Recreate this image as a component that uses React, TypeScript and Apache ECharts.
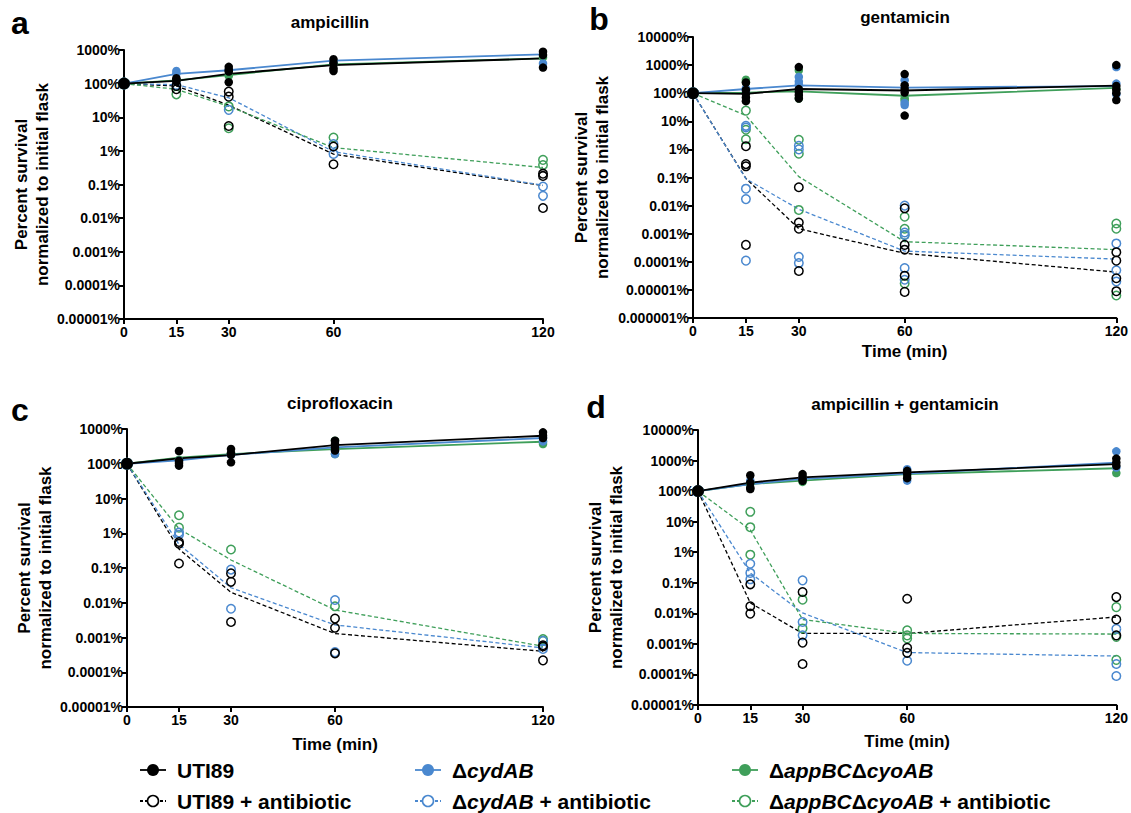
import React, { useEffect, useRef } from 'react';
import * as echarts from 'echarts';

// ---------- shared ----------
const TIMES = [0, 15, 30, 60, 120];
const X_TICKS = [0, 15, 30, 60, 120];
const GROUP_NAMES = ['UTI89', 'ΔcydAB', 'ΔappBCΔcyoAB', 'UTI89 + antibiotic', 'ΔcydAB + antibiotic', 'ΔappBCΔcyoAB + antibiotic'];

// ---------- a: ampicillin ----------
const ampMeanUTI = [100, 120, 195, 355, 560];
const ampMeanCyd = [100, 195, 250, 480, 740];
const ampMeanApp = [100, 125, 180, 375, 560];
const ampMeanUTIab = [100, 85, 23, 0.8, 0.093];
const ampMeanCydab = [100, 93, 38, 0.95, 0.095];
const ampMeanAppab = [100, 68, 21, 1.25, 0.32];
const ampPtsUTI = [[100], [144, 128, 115], [316, 255, 228, 110], [530, 400, 285, 238], [890, 710, 300]];
const ampPtsCyd = [[100], [237, 200], [255], [450], [1050, 400]];
const ampPtsApp = [[100], [128], [170], [400], [600]];
const ampPtsUTIab = [[100], [85, 68], [58, 41, 5.5], [1.35, 0.4], [0.21, 0.18, 0.02]];
const ampPtsCydab = [[100], [91], [16.6], [1.6, 0.81], [0.087, 0.046]];
const ampPtsAppab = [[100], [48], [21, 4.7], [2.5], [0.54, 0.38]];

// ---------- b: gentamicin ----------
const genMeanUTI = [100, 94, 141, 125, 185];
const genMeanCyd = [100, 141, 190, 158, 180];
const genMeanApp = [100, 105, 117, 81, 155];
const genMeanUTIab = [100, 0.093, 0.0015, 0.0002, 0.000043];
const genMeanCydab = [100, 0.09, 0.0074, 0.00024, 0.000125];
const genMeanAppab = [100, 16, 0.107, 0.00052, 0.00027];
const genPtsUTI = [[100], [240, 130, 95, 70, 52], [850, 140, 110, 85, 65], [480, 190, 140, 105, 16], [1000, 180, 135, 100, 57]];
const genPtsCyd = [[100], [150, 120], [380, 260, 200], [290, 45, 38], [850, 220, 90]];
const genPtsApp = [[100], [300, 250], [650, 65], [65, 55], [140]];
const genPtsUTIab = [[100], [1.3, 0.3, 0.25, 0.0004], [0.045, 0.0025, 0.0015, 0.000047], [0.008, 0.0004, 0.00027, 0.000032, 0.0000085], [0.00022, 0.00011, 0.000026, 0.000009]];
const genPtsCydab = [[100], [6.9, 6, 0.04, 0.017, 0.00011], [1.35, 1, 0.00015, 0.00009], [0.01, 0.0011, 0.0009, 0.00006, 0.000023], [0.00045, 0.00005, 0.00002]];
const genPtsAppab = [[100], [24, 5, 2.3], [2.2, 0.7, 0.007], [0.004, 0.0015, 0.0009, 0.000017], [0.0023, 0.0015, 0.0000063]];

// ---------- c: ciprofloxacin ----------
const cipMeanUTI = [100, 142, 178, 345, 640];
const cipMeanCyd = [100, 125, 180, 295, 550];
const cipMeanApp = [100, 150, 190, 265, 430];
const cipMeanUTIab = [100, 0.35, 0.02, 0.0013, 0.0004];
const cipMeanCydab = [100, 0.48, 0.027, 0.0023, 0.0005];
const cipMeanAppab = [100, 1.35, 0.17, 0.0062, 0.00056];
const cipPtsUTI = [[100], [232, 123, 105, 88], [265, 200, 180, 110], [460, 360, 290, 240], [800, 640, 550]];
const cipPtsCyd = [[100], [123], [180], [240, 190], [560, 440]];
const cipPtsApp = [[100], [130], [200], [460, 190], [430, 370]];
const cipPtsUTIab = [[100], [0.56, 0.5, 0.135], [0.07, 0.04, 0.0028], [0.0035, 0.0019, 0.00035], [0.0006, 0.00055, 0.00022]];
const cipPtsCydab = [[100], [0.9, 1.05], [0.09, 0.0067], [0.012, 0.00038], [0.0008, 0.00047]];
const cipPtsAppab = [[100], [3.3, 1.45], [0.34], [0.0079], [0.0009, 0.0008]];

// ---------- d: ampicillin + gentamicin ----------
const agMeanUTI = [100, 190, 280, 410, 760];
const agMeanCyd = [100, 170, 250, 375, 860];
const agMeanApp = [100, 170, 220, 360, 560];
const agMeanUTIab = [100, 0.022, 0.0022, 0.0022, 0.0076];
const agMeanCydab = [100, 0.21, 0.0103, 0.00052, 0.0004];
const agMeanAppab = [100, 5.4, 0.0063, 0.0022, 0.0021];
const agPtsUTI = [[100], [330, 190, 130, 117], [360, 295, 245, 218], [460, 360, 265], [1160, 860, 670]];
const agPtsCyd = [[100], [220], [270], [520, 220], [2000, 590]];
const agPtsApp = [[100], [180], [200], [310], [390]];
const agPtsUTIab = [[100], [0.089, 0.017, 0.0098], [0.05, 0.0011, 0.00022], [0.03, 0.00075, 0.00051], [0.034, 0.0063, 0.0019]];
const agPtsCydab = [[100], [0.42, 0.21, 0.13], [0.12, 0.0052, 0.0019], [0.00028], [0.0031, 0.00022, 0.000089]];
const agPtsAppab = [[100], [21, 6.6, 0.83], [0.028, 0.0032], [0.0028, 0.0019, 0.0015], [0.016, 0.0017, 0.0003]];

// ---------- styles ----------
const BLACK = '#000000';
const BLUE = '#4a88cf';
const GREEN = '#3f9f5a';
const FONT = '"Liberation Sans", Arial, Helvetica, sans-serif';
const GROUP_STYLE = [
  { color: BLACK, filled: true },
  { color: BLUE, filled: true },
  { color: GREEN, filled: true },
  { color: BLACK, filled: false },
  { color: BLUE, filled: false },
  { color: GREEN, filled: false },
];

const PANELS = [
  {
    letter: 'a', title: 'ampicillin', letterX: 20, letterY: 23, titleX: 330, titleY: 22,
    left: 124, top: 50, width: 419, height: 269, yMinExp: -5, yMaxExp: 3, yNameGap: 71, xName: '', xNameGap: 26,
    means: [ampMeanUTI, ampMeanCyd, ampMeanApp, ampMeanUTIab, ampMeanCydab, ampMeanAppab],
    pts: [ampPtsUTI, ampPtsCyd, ampPtsApp, ampPtsUTIab, ampPtsCydab, ampPtsAppab],
  },
  {
    letter: 'b', title: 'gentamicin', letterX: 599, letterY: 19, titleX: 905, titleY: 17,
    left: 693, top: 37, width: 424, height: 281, yMinExp: -6, yMaxExp: 4, yNameGap: 80, xName: 'Time (min)', xNameGap: 25,
    means: [genMeanUTI, genMeanCyd, genMeanApp, genMeanUTIab, genMeanCydab, genMeanAppab],
    pts: [genPtsUTI, genPtsCyd, genPtsApp, genPtsUTIab, genPtsCydab, genPtsAppab],
  },
  {
    letter: 'c', title: 'ciprofloxacin', letterX: 20, letterY: 410, titleX: 340, titleY: 403,
    left: 127, top: 429, width: 416, height: 278, yMinExp: -5, yMaxExp: 3, yNameGap: 65, xName: 'Time (min)', xNameGap: 29,
    means: [cipMeanUTI, cipMeanCyd, cipMeanApp, cipMeanUTIab, cipMeanCydab, cipMeanAppab],
    pts: [cipPtsUTI, cipPtsCyd, cipPtsApp, cipPtsUTIab, cipPtsCydab, cipPtsAppab],
  },
  {
    letter: 'd', title: 'ampicillin + gentamicin', letterX: 596, letterY: 407, titleX: 905, titleY: 404,
    left: 698, top: 430, width: 419, height: 275, yMinExp: -5, yMaxExp: 4, yNameGap: 70, xName: 'Time (min)', xNameGap: 28,
    means: [agMeanUTI, agMeanCyd, agMeanApp, agMeanUTIab, agMeanCydab, agMeanAppab],
    pts: [agPtsUTI, agPtsCyd, agPtsApp, agPtsUTIab, agPtsCydab, agPtsAppab],
  },
];

function fmtPct(v: number): string {
  const e = Math.round(Math.log10(v));
  if (e >= 0) return String(Math.pow(10, e)) + '%';
  return '0.' + '0'.repeat(-e - 1) + '1%';
}

const LEGEND_ITEMS = [
  { x: 153, y: 770, g: 0, text: 'UTI89' },
  { x: 428, y: 770, g: 1, text: 'Δ{i|cydAB}' },
  { x: 745, y: 770, g: 2, text: 'Δ{i|appBC}Δ{i|cyoAB}' },
  { x: 153, y: 801, g: 3, text: 'UTI89 + antibiotic' },
  { x: 428, y: 801, g: 4, text: 'Δ{i|cydAB} + antibiotic' },
  { x: 745, y: 801, g: 5, text: 'Δ{i|appBC}Δ{i|cyoAB} + antibiotic' },
];

function buildOption() {
  const grid: any[] = [];
  const xAxis: any[] = [];
  const yAxis: any[] = [];
  const series: any[] = [];
  const graphic: any[] = [];

  PANELS.forEach((p, i) => {
    grid.push({ left: p.left, top: p.top, width: p.width, height: p.height, containLabel: false });
    xAxis.push({
      type: 'value', gridIndex: i, min: 0, max: 120,
      name: p.xName, nameLocation: 'middle', nameGap: p.xNameGap,
      nameTextStyle: { fontFamily: FONT, fontWeight: 'bold', fontSize: 17, color: BLACK },
      axisLine: { show: true, onZero: false, lineStyle: { color: BLACK, width: 2 } },
      axisTick: { show: true, length: 5, lineStyle: { color: BLACK, width: 2 }, customValues: X_TICKS },
      axisLabel: { show: true, customValues: X_TICKS, fontFamily: FONT, fontWeight: 'bold', fontSize: 14, color: BLACK, margin: 6 },
      splitLine: { show: false },
    });
    const decades = p.yMaxExp - p.yMinExp;
    yAxis.push({
      type: 'log', logBase: 10, gridIndex: i,
      min: Math.pow(10, p.yMinExp), max: Math.pow(10, p.yMaxExp),
      splitNumber: decades, interval: 1,
      name: 'Percent survival\nnormalized to initial flask', nameLocation: 'middle', nameRotate: 90, nameGap: p.yNameGap,
      nameTextStyle: { fontFamily: FONT, fontWeight: 'bold', fontSize: 17, color: BLACK, lineHeight: 21, align: 'center' },
      axisLine: { show: true, lineStyle: { color: BLACK, width: 2 } },
      axisTick: { show: true, length: 5, lineStyle: { color: BLACK, width: 2 } },
      minorTick: { show: false },
      axisLabel: { fontFamily: FONT, fontWeight: 'bold', fontSize: 14, color: BLACK, margin: 4, formatter: (v: number) => fmtPct(v) },
      splitLine: { show: false },
    });

    // mean lines (dashed first, then solid)
    [3, 4, 5, 2, 1, 0].forEach((g) => {
      const st = GROUP_STYLE[g];
      series.push({
        type: 'line', name: GROUP_NAMES[g], xAxisIndex: i, yAxisIndex: i,
        data: TIMES.map((t, k) => [t, p.means[g][k]]),
        showSymbol: false, symbol: 'none', silent: true, z: 2,
        lineStyle: { color: st.color, width: st.filled ? 1.8 : 1.3, type: st.filled ? 'solid' : [4, 2.5], opacity: 1 },
      });
    });
    // replicate points (open first, then filled, black last)
    [5, 4, 3, 2, 1, 0].forEach((g) => {
      const st = GROUP_STYLE[g];
      const data: number[][] = [];
      p.pts[g].forEach((arr, k) => arr.forEach((v) => data.push([TIMES[k], v])));
      series.push({
        type: 'scatter', name: GROUP_NAMES[g], xAxisIndex: i, yAxisIndex: i, data,
        symbol: 'circle', z: st.filled ? 4 + (g === 0 ? 1 : 0) : 3, silent: true,
        symbolSize: st.filled ? (val: number[]) => (val[0] === 0 ? 12 : 8.5) : 8.5,
        itemStyle: st.filled
          ? { color: st.color, opacity: 1 }
          : { color: 'rgba(255,255,255,0)', borderColor: st.color, borderWidth: 1.5, opacity: 1 },
      });
    });

    graphic.push({
      type: 'text', x: p.letterX, y: p.letterY,
      style: { text: p.letter, fontFamily: FONT, fontWeight: 'bold', fontSize: 32, fill: BLACK, align: 'center', verticalAlign: 'middle' },
    });
    graphic.push({
      type: 'text', x: p.titleX, y: p.titleY,
      style: { text: p.title, fontFamily: FONT, fontWeight: 'bold', fontSize: 17, fill: BLACK, align: 'center', verticalAlign: 'middle' },
    });
  });

  LEGEND_ITEMS.forEach((it) => {
    const st = GROUP_STYLE[it.g];
    graphic.push({
      type: 'line', shape: { x1: it.x - 13, y1: it.y, x2: it.x + 13, y2: it.y },
      style: { stroke: st.color, lineWidth: 1.8, lineDash: st.filled ? null : [3, 2] },
    });
    graphic.push({
      type: 'circle', shape: { cx: it.x, cy: it.y, r: st.filled ? 6 : 5.5 },
      style: st.filled ? { fill: st.color } : { fill: '#ffffff', stroke: st.color, lineWidth: 1.6 },
    });
    graphic.push({
      type: 'text', x: it.x + 24, y: it.y,
      style: {
        text: it.text, fontFamily: FONT, fontWeight: 'bold', fontSize: 21, fill: BLACK,
        align: 'left', verticalAlign: 'middle',
        rich: { i: { fontFamily: FONT, fontWeight: 'bold', fontStyle: 'italic', fontSize: 21, fill: BLACK } },
      },
    });
  });

  return {
    animation: false,
    backgroundColor: '#ffffff',
    grid, xAxis, yAxis, series, graphic,
  };
}

export default function App() {
  const ref = useRef<HTMLDivElement>(null);
  useEffect(() => {
    if (!ref.current) return;
    const chart = echarts.init(ref.current, null, { renderer: 'svg' });
    chart.setOption(buildOption() as any);
    return () => chart.dispose();
  }, []);
  return <div ref={ref} style={{ position: 'absolute', left: 0, top: 0, width: 1131, height: 813, background: '#fff' }} />;
}
